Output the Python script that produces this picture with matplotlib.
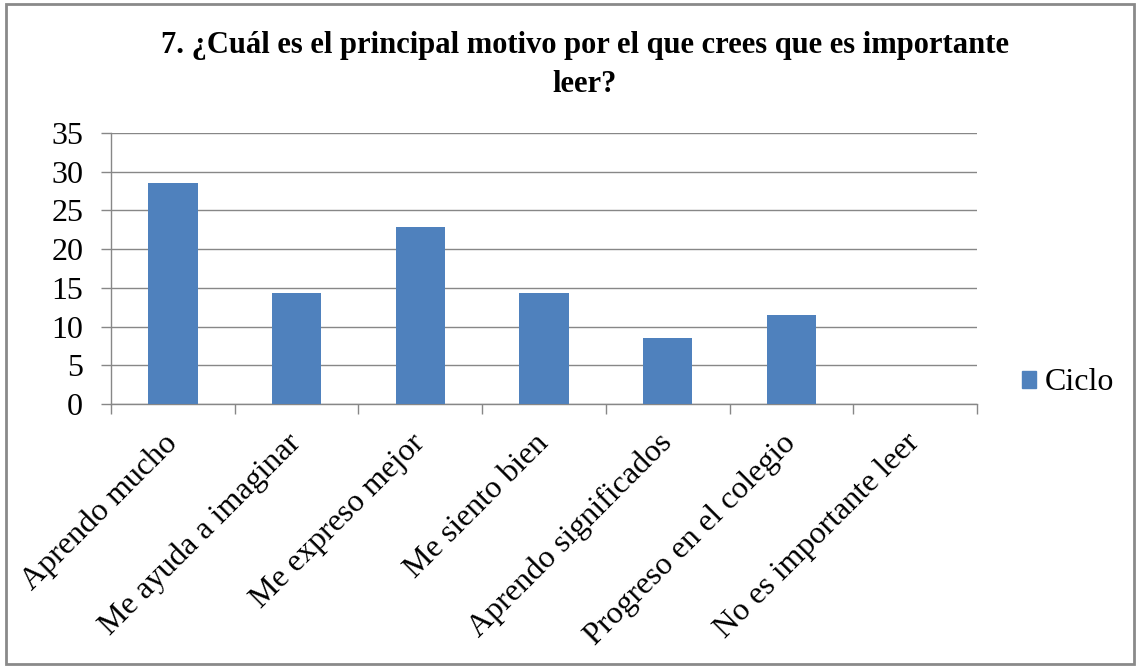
import matplotlib.pyplot as plt
import matplotlib.patches as mpatches
import numpy as np

categorias = ['Aprendo mucho', 'Me ayuda a imaginar', 'Me expreso mejor', 'Me siento bien',
              'Aprendo significados', 'Progreso en el colegio', 'No es importante leer']
ciclo = [28.57, 14.29, 22.86, 14.29, 8.57, 11.43, 0]
yticks = [0, 5, 10, 15, 20, 25, 30, 35]
titulo = '7. ¿Cuál es el principal motivo por el que crees que es importante\nleer?'

plt.rcParams['font.family'] = ['Liberation Serif', 'DejaVu Serif']

azul = '#4F81BD'
gris = '#878787'

fig = plt.figure(figsize=(11.4, 6.69), dpi=100)
ax = fig.add_axes([111/1140, 265/669, 866/1140, 271/669])

x = np.arange(len(categorias))
ax.bar(x, ciclo, width=0.4, color=azul, zorder=3, label='Ciclo')

ax.set_xlim(-0.5, len(categorias) - 0.5)
ax.set_ylim(0, 35)
ax.set_yticks(yticks)
ax.yaxis.grid(True, color=gris, linewidth=1, zorder=0)

# marcas entre categorias, etiquetas en el centro
ax.set_xticks(np.arange(-0.5, len(categorias)), labels=[])
ax.set_xticks(x, labels=categorias, minor=True)
ax.tick_params(axis='x', which='major', length=7, color=gris, width=1, direction='out')
ax.tick_params(axis='x', which='minor', length=0, pad=25)
for lbl in ax.get_xticklabels(minor=True):
    lbl.set_rotation(45)
    lbl.set_ha('right')
    lbl.set_va('center')
    lbl.set_rotation_mode('anchor')
    lbl.set_fontsize(23)
ax.tick_params(axis='y', length=7, color=gris, width=1, labelsize=23, pad=13)

for s in ['top', 'right']:
    ax.spines[s].set_visible(False)
for s in ['left', 'bottom']:
    ax.spines[s].set_color(gris)
    ax.spines[s].set_linewidth(1)

fig.text(585/1140, 1 - 65/669, titulo, ha='center', va='center', fontsize=22,
         fontweight='bold', linespacing=1.45)

handle = mpatches.Patch(color=azul, label='Ciclo')
fig.legend(handles=[handle], loc='center left', bbox_to_anchor=(1022/1140, 1 - 383/669),
           frameon=False, fontsize=23, handlelength=0.45, handleheight=0.45,
           handletextpad=0.25, borderpad=0, borderaxespad=0)

# borde exterior
fig.patches.append(mpatches.Rectangle((6/1140, 5/669), 1128/1140, 660/669,
                                      transform=fig.transFigure, fill=False,
                                      edgecolor='#8a8a8a', linewidth=2))

fig.savefig('out.png', dpi=100)
